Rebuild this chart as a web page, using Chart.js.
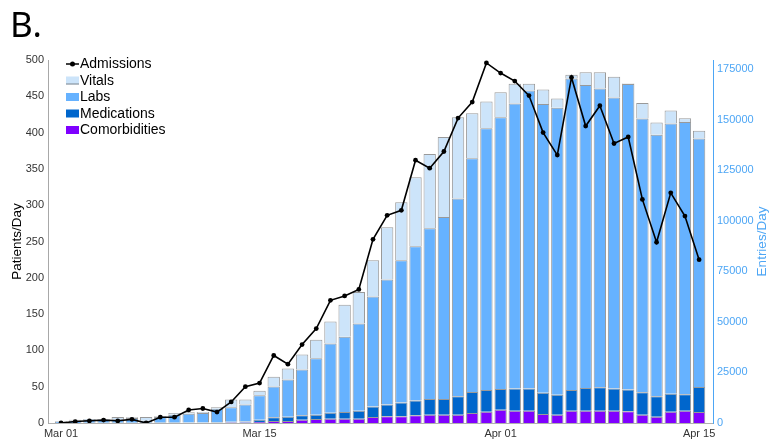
<!DOCTYPE html>
<html>
<head>
<meta charset="utf-8">
<script src="https://cdn.jsdelivr.net/npm/chart.js@4.4.1/dist/chart.umd.min.js"></script>
<style>
html,body{margin:0;padding:0;background:#fff;}
#wrap{position:relative;width:773px;height:443px;}
</style>
</head>
<body>
<div id="wrap"><canvas id="c" width="773" height="443"></canvas></div>
<script>
// ---- data ----
const dates = ['Mar 01','Mar 02','Mar 03','Mar 04','Mar 05','Mar 06','Mar 07','Mar 08','Mar 09','Mar 10',
  'Mar 11','Mar 12','Mar 13','Mar 14','Mar 15','Mar 16','Mar 17','Mar 18','Mar 19','Mar 20',
  'Mar 21','Mar 22','Mar 23','Mar 24','Mar 25','Mar 26','Mar 27','Mar 28','Mar 29','Mar 30','Mar 31',
  'Apr 01','Apr 02','Apr 03','Apr 04','Apr 05','Apr 06','Apr 07','Apr 08','Apr 09','Apr 10',
  'Apr 11','Apr 12','Apr 13','Apr 14','Apr 15'];
const admissions = [0,2,3,4,3,5,0,8,8,18,20,15,29,50,55,93,81,108,130,169,175,184,253,286,293,362,351,374,420,442,
  496,482,471,451,400,369,476,409,437,385,394,308,249,317,285,225];
const comorbidities = [0,0,0,0,0,0,0,0,0,100,100,100,200,200,500,1000,1000,1600,2000,2100,2100,2100,3000,3300,3300,3800,
  4100,4100,4100,5000,5600,6600,6100,6100,4500,4100,6100,6100,6100,6100,5800,4100,3100,5600,6100,5400];
const medications = [0,0,100,100,100,100,100,200,200,200,200,300,400,600,1100,1800,2100,2200,2100,3000,3300,4000,5100,5900,6800,7300,
  7800,7800,9100,10300,10700,10200,10900,10900,10500,9900,10200,11200,11600,10900,10700,11100,10100,8900,8100,12400];
const labs = [800,1200,1400,1500,1600,2400,1000,2800,3900,4300,4700,6700,7200,8300,12100,15300,18400,22600,27900,34200,37200,43100,54400,61700,70300,76200,
  84300,89900,97800,115500,129400,134300,140900,147300,142600,141800,154000,149700,147600,143900,151000,135300,129200,133500,134500,122800];
const vitals = [200,400,500,400,1300,300,1900,300,900,700,400,700,3800,2500,2300,4800,5400,7400,9100,10900,15800,15600,17900,25800,28700,34200,
  36800,39500,40100,22300,13200,12400,9800,3400,7200,4600,1800,6300,8000,10200,300,7600,6100,6400,1900,3800];
const xTickLabels = ['Mar 01','Mar 15','Apr 01','Apr 15'];
const leftTicks = [0,50,100,150,200,250,300,350,400,450,500];
const rightTicks = [0,25000,50000,75000,100000,125000,150000,175000];

// ---- styles ----
const C_VIT = '#cce4fa', C_LAB = '#66b2ff', C_MED = '#0066cc', C_COM = '#7f00ff';
const RIGHT_BLUE = '#4da6f5';
const FONT = "'Liberation Sans', Arial, sans-serif";

const xTickIdx = xTickLabels.map(l => dates.indexOf(l));
const pts = arr => arr.map((v, i) => ({x: i, y: v}));

function barDs(label, arr, color) {
  return {
    type: 'bar', label, data: pts(arr), backgroundColor: color,
    borderColor: 'rgba(70,70,70,0.55)', borderWidth: 1,
    yAxisID: 'yR', order: 1, barPercentage: 0.87, categoryPercentage: 1.0, grouped: false
  };
}

const legendPlugin = {
  id: 'customLegend',
  afterDraw(chart) {
    const ctx = chart.ctx;
    const ca = chart.chartArea;
    ctx.save();
    // Title "B."
    ctx.fillStyle = '#000';
    ctx.font = "35px 'Noto Sans', sans-serif";
    ctx.textBaseline = 'alphabetic';
    ctx.textAlign = 'left';
    ctx.fillText('B.', 10, 37);
    // right axis title, reading bottom-to-top
    ctx.save();
    ctx.translate(762, (ca.top + ca.bottom) / 2);
    ctx.rotate(-Math.PI / 2);
    ctx.textAlign = 'center';
    ctx.textBaseline = 'middle';
    ctx.fillStyle = RIGHT_BLUE;
    ctx.font = '13.5px ' + FONT;
    ctx.fillText('Entries/Day', 0, 0);
    ctx.restore();
    // legend
    ctx.font = '14px ' + FONT;
    ctx.textBaseline = 'middle';
    ctx.textAlign = 'left';
    const x0 = 66, x1 = 79, tx = 80;
    ctx.strokeStyle = '#000'; ctx.lineWidth = 1.5;
    ctx.beginPath(); ctx.moveTo(x0, 64); ctx.lineTo(x1, 64); ctx.stroke();
    ctx.beginPath(); ctx.arc((x0 + x1) / 2, 64, 2.5, 0, Math.PI * 2); ctx.fillStyle = '#000'; ctx.fill();
    ctx.fillText('Admissions', tx, 64.5);
    const items = [['Vitals', C_VIT, 80.5], ['Labs', C_LAB, 97], ['Medications', C_MED, 113.5], ['Comorbidities', C_COM, 130]];
    items.forEach(([t, col, y]) => {
      ctx.fillStyle = col;
      ctx.fillRect(x0, y - 4, x1 - x0, 8);
      if (t === 'Vitals') { ctx.strokeStyle = 'rgba(70,70,70,0.6)'; ctx.lineWidth = 1; ctx.beginPath(); ctx.moveTo(x0, y + 3.5); ctx.lineTo(x1, y + 3.5); ctx.stroke(); }
      ctx.fillStyle = '#000';
      ctx.fillText(t, tx, y + 0.5);
    });
    ctx.restore();
  }
};

new Chart(document.getElementById('c'), {
  data: {
    datasets: [
      {
        type: 'line', label: 'Admissions', data: pts(admissions), yAxisID: 'yL', order: 0,
        borderColor: '#000', backgroundColor: '#000', borderWidth: 1.6,
        pointRadius: 2.4, pointBackgroundColor: '#000', pointBorderWidth: 0, tension: 0
      },
      barDs('Comorbidities', comorbidities, C_COM),
      barDs('Medications', medications, C_MED),
      barDs('Labs', labs, C_LAB),
      barDs('Vitals', vitals, C_VIT)
    ]
  },
  options: {
    responsive: false, animation: false, devicePixelRatio: 1,
    layout: {padding: {top: 60, left: 0, right: 0, bottom: 0}},
    plugins: {legend: {display: false}, tooltip: {enabled: false}, title: {display: false}},
    scales: {
      x: {
        type: 'linear', min: -0.92, max: 45.98, stacked: true, offset: false,
        grid: {display: false, drawTicks: false},
        border: {display: true, color: '#b0b0b0'},
        afterBuildTicks: s => { s.ticks = xTickIdx.map(v => ({value: v})); },
        afterFit: s => { s.height = 20; },
        ticks: {autoSkip: false, maxRotation: 0, padding: 4, color: '#333', font: {family: FONT, size: 11},
          callback: v => dates[v]}
      },
      yL: {
        type: 'linear', position: 'left', min: 0, max: 500,
        grid: {display: false, drawTicks: false},
        border: {display: true, color: '#a8a8a8'},
        afterBuildTicks: s => { s.ticks = leftTicks.map(v => ({value: v})); },
        afterFit: s => { s.width = 48; },
        ticks: {padding: 4, color: '#333', font: {family: FONT, size: 11}, callback: v => String(v)},
        title: {display: true, text: 'Patients/Day', color: '#000', font: {family: FONT, size: 13.5}, padding: {top: 9, bottom: 0}}
      },
      yR: {
        type: 'linear', position: 'right', min: 0, max: 179400, stacked: true,
        grid: {display: false, drawTicks: false},
        border: {display: true, color: RIGHT_BLUE},
        afterBuildTicks: s => { s.ticks = rightTicks.map(v => ({value: v})); },
        afterFit: s => { s.width = 60; },
        ticks: {padding: 4, color: RIGHT_BLUE, font: {family: FONT, size: 11}, callback: v => String(v)}
      }
    }
  },
  plugins: [legendPlugin]
});
</script>
</body>
</html>
